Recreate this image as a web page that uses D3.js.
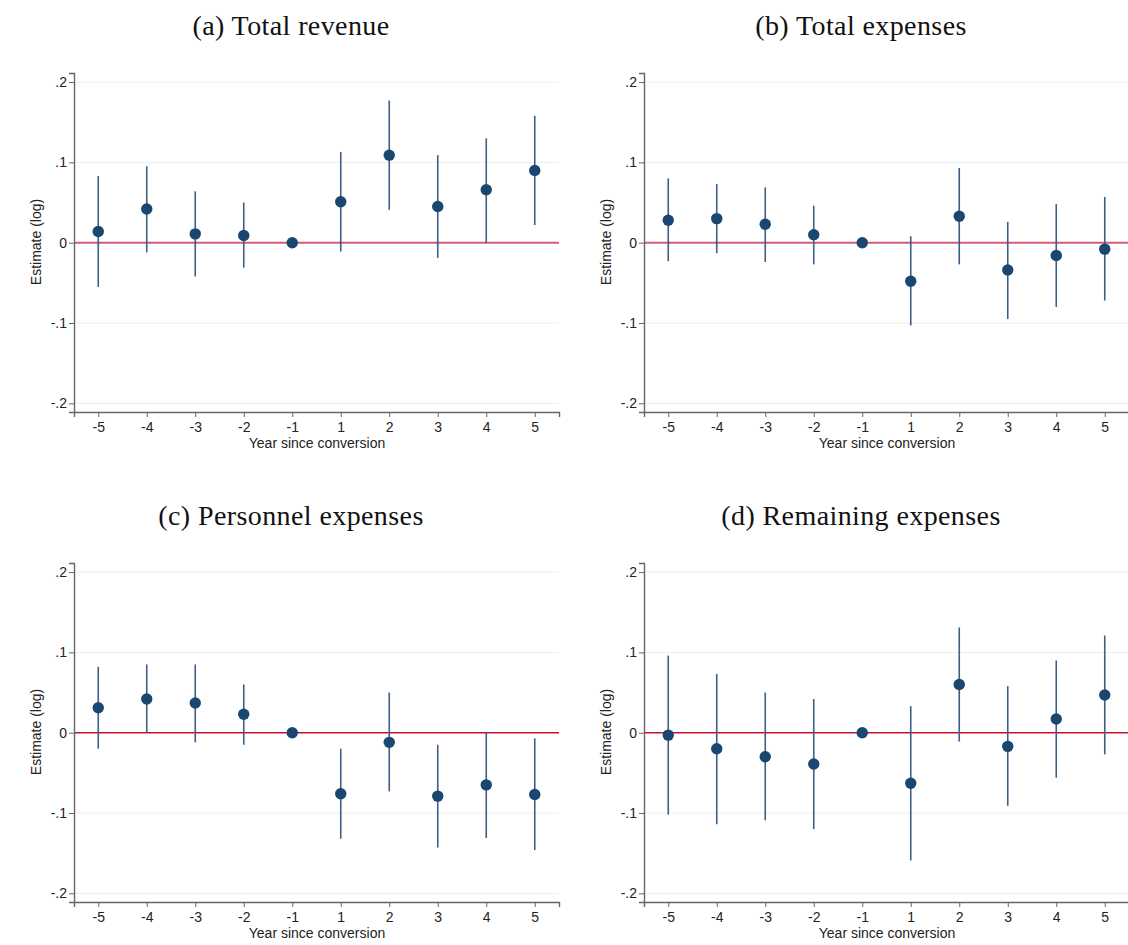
<!DOCTYPE html>
<html>
<head>
<meta charset="utf-8">
<script src="https://cdn.jsdelivr.net/npm/d3@7"></script>
<style>
  body { margin: 0; background: #fff; }
  svg { display: block; }
</style>
</head>
<body>
<svg width="1128" height="945"></svg>
<script>
// event-study estimates
var years = ["-5", "-4", "-3", "-2", "-1", "1", "2", "3", "4", "5"];
var titles = ["(a) Total revenue", "(b) Total expenses", "(c) Personnel expenses", "(d) Remaining expenses"];

var revEst = [0.014, 0.042, 0.011, 0.009, 0, 0.051, 0.109, 0.045, 0.066, 0.090];
var revLo  = [-0.055, -0.012, -0.042, -0.031, 0, -0.011, 0.041, -0.019, 0.000, 0.022];
var revHi  = [0.083, 0.095, 0.064, 0.050, 0, 0.113, 0.177, 0.109, 0.130, 0.158];

var expEst = [0.028, 0.030, 0.023, 0.010, 0, -0.048, 0.033, -0.034, -0.016, -0.008];
var expLo  = [-0.023, -0.013, -0.024, -0.027, 0, -0.103, -0.027, -0.095, -0.080, -0.072];
var expHi  = [0.080, 0.073, 0.069, 0.046, 0, 0.008, 0.093, 0.026, 0.048, 0.057];

var perEst = [0.031, 0.042, 0.037, 0.023, 0, -0.076, -0.012, -0.079, -0.065, -0.077];
var perLo  = [-0.020, 0.000, -0.012, -0.015, 0, -0.132, -0.073, -0.143, -0.131, -0.146];
var perHi  = [0.082, 0.085, 0.085, 0.060, 0, -0.020, 0.050, -0.015, 0.001, -0.007];

var remEst = [-0.003, -0.020, -0.030, -0.039, 0, -0.063, 0.060, -0.017, 0.017, 0.047];
var remLo  = [-0.102, -0.114, -0.109, -0.120, 0, -0.159, -0.011, -0.091, -0.056, -0.027];
var remHi  = [0.096, 0.073, 0.050, 0.042, 0, 0.033, 0.131, 0.058, 0.090, 0.121];

var yTicks = [-0.2, -0.1, 0, 0.1, 0.2];
var yTickLabels = ["-.2", "-.1", "0", ".1", ".2"];

var series = [
  {est: revEst, lo: revLo, hi: revHi},
  {est: expEst, lo: expLo, hi: expHi},
  {est: perEst, lo: perLo, hi: perHi},
  {est: remEst, lo: remLo, hi: remHi}
];

var panelOrigin = [[0, 0], [570, 0], [0, 490], [570, 490]];
var zeroLine = [
  {color: "#d35b7a", width: 2},
  {color: "#d35b7a", width: 2},
  {color: "#c8102e", width: 1.4},
  {color: "#c8102e", width: 1.4}
];

var svg = d3.select("svg");

var x = d3.scalePoint().domain(years).range([74, 559]).padding(0.5);
var y = d3.scaleLinear().domain([-0.2108, 0.2113]).range([412, 73]);

var font = "'Liberation Sans', Arial, sans-serif";

series.forEach(function(s, k) {
  var g = svg.append("g")
    .attr("transform", "translate(" + panelOrigin[k][0] + "," + panelOrigin[k][1] + ")");

  // title
  g.append("text")
    .attr("x", 291).attr("y", 35)
    .attr("text-anchor", "middle")
    .style("font-family", "'Liberation Serif', 'Times New Roman', serif")
    .style("font-size", "28px")
    .style("letter-spacing", "0.4px")
    .style("fill", "#111")
    .text(titles[k]);

  // grid lines
  g.append("g").selectAll("line")
    .data(yTicks.filter(function(t) { return t !== 0; }))
    .enter().append("line")
    .attr("x1", 74).attr("x2", 559)
    .attr("y1", function(d) { return y(d); })
    .attr("y2", function(d) { return y(d); })
    .attr("stroke", "#e8f0f2").attr("stroke-width", 1);

  // zero line
  g.append("line")
    .attr("x1", 74).attr("x2", 559)
    .attr("y1", y(0)).attr("y2", y(0))
    .attr("stroke", zeroLine[k].color)
    .attr("stroke-width", zeroLine[k].width);

  // axes
  var yAxis = d3.axisLeft(y).tickValues(yTicks).tickSizeOuter(0).tickSize(5)
    .tickFormat(function(d, i) { return yTickLabels[i]; });
  var ya = g.append("g").attr("transform", "translate(74,0)").call(yAxis);

  var xAxis = d3.axisBottom(x).tickSizeOuter(0).tickSize(5);
  var xa = g.append("g").attr("transform", "translate(0,412)").call(xAxis);

  [ya, xa].forEach(function(a) {
    a.select(".domain").attr("stroke", "#666").attr("stroke-width", 1.4);
    a.selectAll(".tick line").attr("stroke", "#666").attr("stroke-width", 1);
    a.selectAll(".tick text")
      .style("font-family", font)
      .style("font-size", "14px")
      .style("fill", "#222");
  });
  ya.selectAll(".tick text").attr("x", -7);
  xa.selectAll(".tick text").attr("y", 10);

  // axis titles
  g.append("text")
    .attr("x", 317).attr("y", 448)
    .attr("text-anchor", "middle")
    .style("font-family", font).style("font-size", "14px").style("fill", "#222")
    .text("Year since conversion");

  g.append("text")
    .attr("transform", "translate(41,242) rotate(-90)")
    .attr("text-anchor", "middle")
    .style("font-family", font).style("font-size", "14px").style("fill", "#222")
    .text("Estimate (log)");

  // confidence intervals
  g.append("g").selectAll("line")
    .data(years)
    .enter().append("line")
    .attr("x1", function(d) { return x(d); })
    .attr("x2", function(d) { return x(d); })
    .attr("y1", function(d, i) { return y(s.lo[i]); })
    .attr("y2", function(d, i) { return y(s.hi[i]); })
    .attr("stroke", "#3d5f85").attr("stroke-width", 1.6);

  // point estimates
  g.append("g").selectAll("circle")
    .data(years)
    .enter().append("circle")
    .attr("cx", function(d) { return x(d); })
    .attr("cy", function(d, i) { return y(s.est[i]); })
    .attr("r", 5.7)
    .attr("fill", "#1a476f");
});
</script>
</body>
</html>
